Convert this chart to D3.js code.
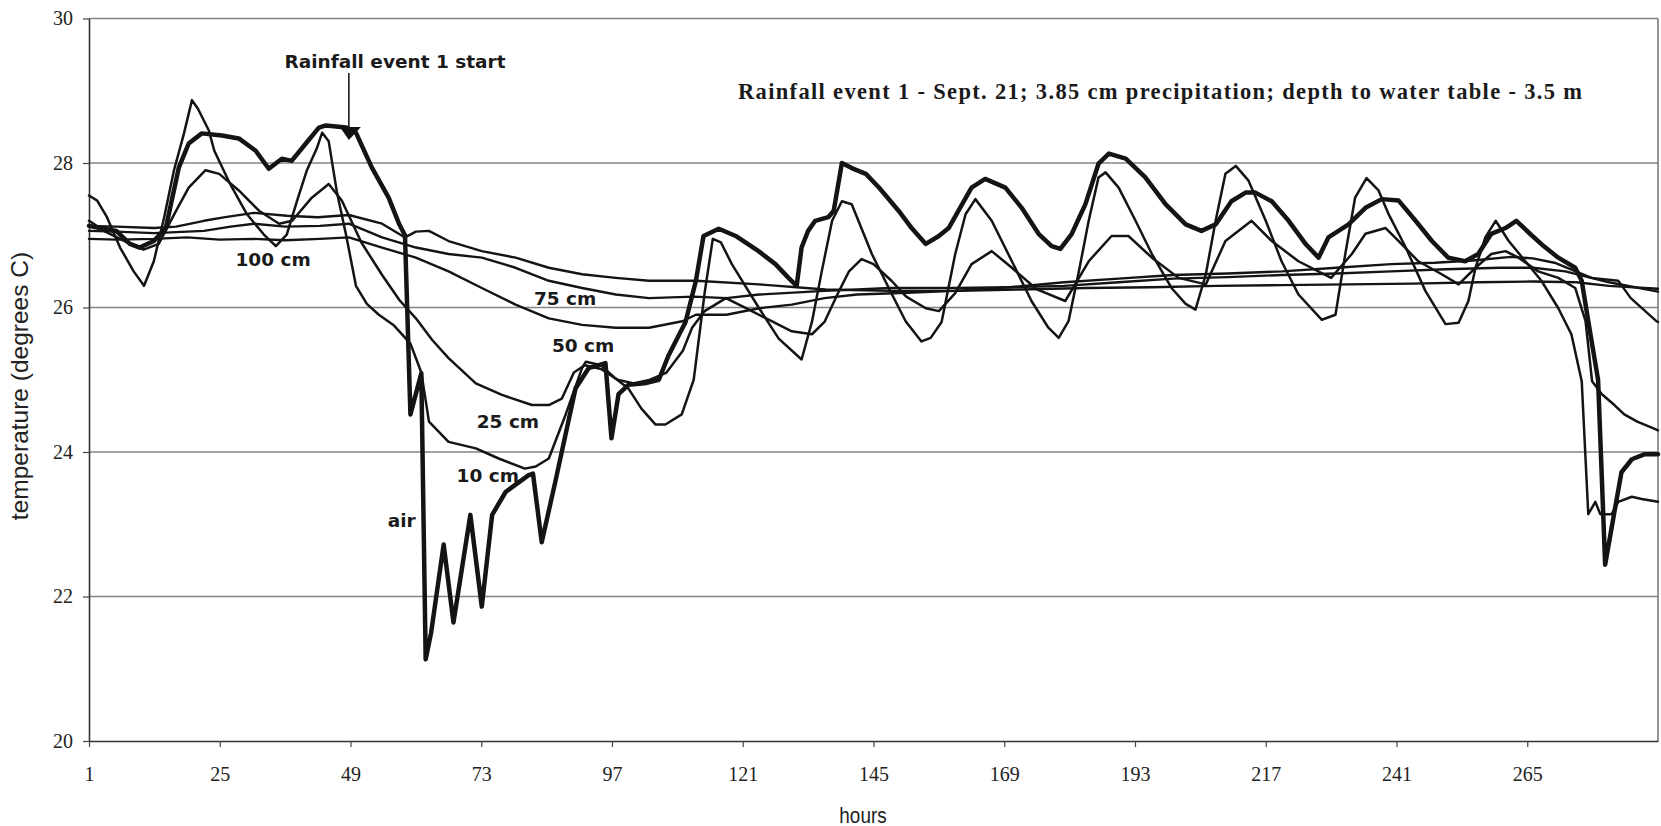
<!DOCTYPE html>
<html>
<head>
<meta charset="utf-8">
<script src="https://cdn.jsdelivr.net/npm/d3@7"></script>
<style>
  html, body { margin: 0; padding: 0; background: #ffffff; }
  svg { display: block; }
</style>
</head>
<body>
<svg id="chart" width="1661" height="826"></svg>
<script>
// ---- axis ticks ----
const hourTicks = [1, 25, 49, 73, 97, 121, 145, 169, 193, 217, 241, 265];
const tempTicks = [20, 22, 24, 26, 28, 30];

// ---- temperature records: [hour, degrees C] ----
const airTemps = [
  [1, 27.13], [3, 27.1], [6, 27.06], [8.5, 26.88], [10.3, 26.83], [12.9, 26.92], [15.1, 27.1],
  [17.5, 27.94], [19.3, 28.27], [21.7, 28.41], [25.4, 28.38], [28.5, 28.34], [31.6, 28.17],
  [34, 27.92], [36.4, 28.06], [38.2, 28.03], [40.8, 28.27], [43.2, 28.49], [44.5, 28.52],
  [48.2, 28.49], [50, 28.42], [52.9, 27.94], [56, 27.52], [57.9, 27.16], [59, 27.0],
  [60, 24.52], [62, 25.09], [62.8, 21.13], [63.8, 21.5], [66.1, 22.72], [67.9, 21.64],
  [71, 23.13], [73.1, 21.86], [75, 23.13], [77.5, 23.45], [81.7, 23.68], [82.5, 23.7],
  [84.1, 22.75], [86.6, 23.59], [90.3, 24.88], [92.7, 25.16], [95.8, 25.23], [96.9, 24.19],
  [98.2, 24.8], [100, 24.93], [103, 24.95], [105.6, 25.0], [107.4, 25.34], [110.5, 25.8],
  [112.4, 26.37], [113.8, 26.99], [116.6, 27.09], [119.7, 26.99], [123.9, 26.78], [127, 26.6],
  [129.4, 26.41], [130.9, 26.3], [131.8, 26.83], [133, 27.06], [134.3, 27.2], [136.7, 27.25],
  [137.7, 27.34], [139.2, 28.0], [141, 27.93], [143.6, 27.85], [146, 27.66], [149.6, 27.34],
  [152, 27.1], [154.6, 26.88], [157, 26.99], [158.8, 27.1], [160.6, 27.34], [163, 27.66],
  [165.5, 27.78], [169.2, 27.66], [172.2, 27.38], [175.3, 27.02], [177.7, 26.85], [179.3, 26.81],
  [181.4, 27.02], [183.9, 27.43], [186.3, 27.99], [188.2, 28.13], [191.3, 28.06], [194.9, 27.8],
  [198.6, 27.43], [202.3, 27.15], [205.2, 27.06], [207.8, 27.15], [210.7, 27.47], [213.3, 27.59],
  [215.1, 27.59], [218.1, 27.47], [221.2, 27.2], [224.3, 26.88], [226.7, 26.69], [228.5, 26.97],
  [232.2, 27.15], [235.3, 27.38], [238.3, 27.5], [241.4, 27.48], [244.5, 27.2], [247.5, 26.92],
  [250.5, 26.69], [253.6, 26.64], [256, 26.74], [258.4, 27.02], [261, 27.1], [263, 27.2],
  [265.8, 27.0], [268, 26.85], [270.7, 26.69], [273.8, 26.55], [275, 26.37], [276.2, 25.81],
  [278, 25.0], [279.3, 22.44], [281, 23.17], [282.3, 23.72], [284.2, 23.9], [286.6, 23.97], [289, 23.97]
];

const soil10 = [
  [1, 27.55], [2.5, 27.48], [4.3, 27.25], [6.7, 26.83], [9.2, 26.5], [11.1, 26.3], [12.9, 26.64],
  [14.8, 27.25], [16.6, 27.9], [18.4, 28.4], [19.9, 28.87], [21, 28.75], [23, 28.45], [24, 28.17],
  [26.9, 27.71], [30, 27.29], [33.1, 27.01], [35.3, 26.85], [37.3, 27.01], [39.2, 27.48],
  [41, 27.9], [42.8, 28.2], [43.8, 28.42], [45, 28.3], [46.5, 27.6], [48.2, 27.0], [50, 26.3],
  [52, 26.05], [54.2, 25.9], [57, 25.75], [60, 25.5], [62, 25.1], [63.4, 24.42], [67, 24.14],
  [72, 24.05], [76.2, 23.91], [81, 23.77], [83, 23.8], [85.4, 23.91], [88.5, 24.52], [91.5, 25.16],
  [92.2, 25.25], [95, 25.2], [97.6, 25.02], [100, 24.88], [102.4, 24.6], [105, 24.38],
  [106.8, 24.38], [109.8, 24.52], [112, 25.0], [114, 26.2], [115.5, 26.95], [117, 26.9],
  [119, 26.6], [124, 25.99], [127.6, 25.57], [131.8, 25.28], [133.7, 25.8], [135.5, 26.5],
  [137.4, 27.2], [139.2, 27.47], [141, 27.43], [144.7, 26.74], [148.4, 26.18], [150.9, 25.81],
  [153.8, 25.53], [155.5, 25.58], [157.5, 25.8], [160, 26.74], [161.9, 27.29], [163.7, 27.5],
  [166.7, 27.2], [170.4, 26.64], [174, 26.09], [177.1, 25.72], [179, 25.58], [180.8, 25.81],
  [182.7, 26.5], [184.5, 27.2], [186.3, 27.8], [187.6, 27.87], [190, 27.66], [193.1, 27.2],
  [196.1, 26.74], [199.7, 26.27], [202.3, 26.05], [204.1, 25.97], [206, 26.46], [207.8, 27.2],
  [209.6, 27.85], [211.5, 27.96], [213.8, 27.76], [217, 27.2], [219.9, 26.64], [223, 26.18],
  [227.3, 25.83], [229.8, 25.9], [231.6, 26.74], [233.4, 27.52], [235.5, 27.79], [237.7, 27.62],
  [239.5, 27.3], [242.7, 26.83], [246.3, 26.23], [250, 25.77], [252.4, 25.79], [254.2, 26.09],
  [255.5, 26.55], [257.3, 26.97], [259.2, 27.2], [261.6, 26.92], [264, 26.7], [267.6, 26.37],
  [270.7, 25.99], [273.1, 25.63], [275, 24.98], [276.2, 23.14], [277.5, 23.31], [278.4, 23.14],
  [280.5, 23.14], [281.7, 23.31], [284.2, 23.38], [286, 23.35], [289, 23.31]
];

const soil25 = [
  [1, 27.2], [4, 27.05], [8, 26.9], [11, 26.8], [13.8, 26.88], [17, 27.34], [19.3, 27.66],
  [22.4, 27.9], [24.9, 27.85], [28.5, 27.62], [32.2, 27.34], [35.9, 27.16], [38.3, 27.2],
  [41.9, 27.52], [45, 27.71], [47.4, 27.48], [51, 26.9], [54.8, 26.45], [58, 26.1], [61, 25.85],
  [64, 25.55], [67, 25.3], [72, 24.95], [76.8, 24.79], [82.3, 24.65], [85.4, 24.65], [87.8, 24.74],
  [90, 25.1], [92, 25.2], [95, 25.15], [98, 25.0], [101, 24.95], [104, 25.0], [107, 25.1],
  [110, 25.4], [111.7, 25.72], [114, 25.95], [117.9, 26.13], [121.6, 25.99], [126.3, 25.81],
  [130, 25.67], [133.7, 25.63], [136, 25.8], [138.5, 26.2], [140.5, 26.5], [142.8, 26.67],
  [145, 26.6], [148.3, 26.37], [151, 26.15], [154.6, 25.99], [157, 25.95], [160, 26.2],
  [163, 26.6], [166.7, 26.78], [170.4, 26.55], [175, 26.25], [180.2, 26.09], [184.5, 26.64],
  [188.7, 26.99], [191.8, 26.99], [196.1, 26.69], [201, 26.41], [206, 26.32], [209.6, 26.92],
  [214.4, 27.2], [218.1, 26.92], [223, 26.64], [229, 26.41], [232.8, 26.74], [235.3, 27.02],
  [239, 27.1], [241.4, 26.92], [245, 26.64], [249.3, 26.46], [252.4, 26.32], [255.5, 26.55],
  [258.4, 26.74], [261, 26.78], [263.4, 26.69], [267, 26.5], [270.7, 26.41], [273.8, 26.27],
  [275.7, 25.81], [276.9, 24.98], [278.7, 24.8], [281, 24.65], [282.8, 24.52], [285.2, 24.42],
  [288.4, 24.32], [289, 24.3]
];

const soil50 = [
  [1, 26.95], [6, 26.94], [12.9, 26.95], [19, 26.97], [25, 26.94], [31.3, 26.95], [37, 26.93],
  [43.4, 26.95], [48.7, 26.97], [54.8, 26.83], [61, 26.69], [67, 26.5], [73.1, 26.27],
  [79.3, 26.04], [85.4, 25.85], [91.5, 25.76], [97.7, 25.72], [103.8, 25.72], [109.9, 25.81],
  [112.4, 25.9], [118, 25.9], [124, 25.99], [130, 26.04], [136, 26.13], [142, 26.18],
  [150, 26.2], [160, 26.23], [170, 26.28], [180, 26.35], [190, 26.4], [200, 26.45], [210, 26.47],
  [220, 26.5], [230, 26.55], [240, 26.6], [248, 26.62], [255, 26.65], [262, 26.7], [266, 26.68],
  [270, 26.62], [276.8, 26.41], [281.7, 26.37], [284, 26.13], [288.7, 25.81], [289, 25.8]
];

const soil75 = [
  [1, 27.06], [6, 27.05], [12.9, 27.03], [22.1, 27.06], [27, 27.12], [31.3, 27.16], [37, 27.12],
  [43.4, 27.13], [48.7, 27.16], [54.8, 26.97], [61, 26.83], [67, 26.74], [73.1, 26.69],
  [79.3, 26.55], [85.4, 26.37], [91.5, 26.27], [97.7, 26.18], [103.8, 26.13], [112, 26.15],
  [118, 26.13], [124, 26.18], [136, 26.23], [148, 26.27], [160, 26.27], [170, 26.28],
  [180, 26.3], [190, 26.35], [200, 26.4], [210, 26.42], [220, 26.45], [230, 26.47],
  [240, 26.5], [250, 26.53], [260, 26.55], [266, 26.55], [272, 26.5], [280, 26.35], [289, 26.22]
];

const soil100 = [
  [1, 27.13], [6, 27.12], [12.9, 27.1], [17, 27.12], [22.1, 27.2], [26, 27.25], [31.3, 27.31],
  [37.3, 27.27], [43, 27.25], [48.7, 27.28], [54.8, 27.16], [59, 26.97], [61, 27.05],
  [63.4, 27.06], [67, 26.92], [73.1, 26.78], [79.3, 26.69], [85.4, 26.55], [91.5, 26.46],
  [97.7, 26.41], [103.8, 26.37], [112.4, 26.37], [124, 26.32], [136.2, 26.25], [148.4, 26.23],
  [160.6, 26.23], [172, 26.25], [184, 26.27], [196, 26.28], [208, 26.3], [220, 26.31],
  [232, 26.32], [244, 26.33], [256, 26.35], [266, 26.36], [274, 26.35], [280, 26.3], [289, 26.26]
];

// ---- depth labels, anchored in data units ----
const depthLabels = [
  { text: "100 cm", hour: 34.8, temp: 26.67 },
  { text: "75 cm",  hour: 88.4, temp: 26.12 },
  { text: "50 cm",  hour: 91.7, temp: 25.47 },
  { text: "25 cm",  hour: 77.9, temp: 24.42 },
  { text: "10 cm",  hour: 74.2, temp: 23.67 },
  { text: "air",    hour: 58.4, temp: 23.05 }
];
const rainStartHour = 48.7;

// ---- layout ----
const svg = d3.select("#chart");
const plotLeft = 89, plotRight = 1658, plotTop = 18.5, plotBottom = 741;

const x = d3.scaleLinear().domain([1, 289]).range([plotLeft, plotRight]);
const y = d3.scaleLinear().domain([20, 30]).range([plotBottom, plotTop]);

svg.append("rect").attr("width", 1661).attr("height", 826).attr("fill", "#ffffff");

// horizontal gridlines
svg.append("g")
  .selectAll("line")
  .data(tempTicks.filter(t => t > 20))
  .join("line")
  .attr("x1", plotLeft).attr("x2", plotRight)
  .attr("y1", d => y(d)).attr("y2", d => y(d))
  .attr("stroke", "#858585")
  .attr("stroke-width", 1.3);

// right frame edge
svg.append("line")
  .attr("x1", plotRight).attr("x2", plotRight)
  .attr("y1", plotTop).attr("y2", plotBottom)
  .attr("stroke", "#6a6a6a").attr("stroke-width", 1.4);

// y axis
const yAxis = svg.append("g")
  .attr("transform", `translate(${plotLeft},0)`)
  .call(d3.axisLeft(y).tickValues(tempTicks).tickSize(6).tickPadding(10).tickSizeOuter(0));
yAxis.select(".domain").attr("stroke", "#333").attr("stroke-width", 1.6);
yAxis.selectAll(".tick line").attr("stroke", "#444").attr("stroke-width", 1.2);
yAxis.selectAll(".tick text")
  .attr("font-family", "'Liberation Serif', 'Times New Roman', serif")
  .attr("font-size", 20).attr("fill", "#222");

// x axis
const xAxis = svg.append("g")
  .attr("transform", `translate(0,${plotBottom})`)
  .call(d3.axisBottom(x).tickValues(hourTicks).tickSize(6).tickPadding(20).tickSizeOuter(0));
xAxis.select(".domain").attr("stroke", "#333").attr("stroke-width", 1.6);
xAxis.selectAll(".tick line").attr("stroke", "#444").attr("stroke-width", 1.2);
xAxis.selectAll(".tick text")
  .attr("font-family", "'Liberation Serif', 'Times New Roman', serif")
  .attr("font-size", 20).attr("fill", "#222");

// axis titles
svg.append("text")
  .attr("transform", "translate(28,386) rotate(-90)")
  .attr("text-anchor", "middle")
  .attr("font-family", "'Liberation Sans', Arial, sans-serif")
  .attr("font-size", 24.5).attr("fill", "#222")
  .text("temperature (degrees C)");

svg.append("text")
  .attr("transform", "translate(863,823) scale(0.86,1)")
  .attr("text-anchor", "middle")
  .attr("font-family", "'Liberation Sans', Arial, sans-serif")
  .attr("font-size", 22).attr("fill", "#222")
  .text("hours");

// series
const line = d3.line().x(d => x(d[0])).y(d => y(d[1]));
const series = [
  { values: soil100, width: 2.4 },
  { values: soil75,  width: 2.4 },
  { values: soil50,  width: 2.4 },
  { values: soil25,  width: 2.5 },
  { values: soil10,  width: 2.5 },
  { values: airTemps, width: 4.5 }
];
svg.append("g")
  .selectAll("path")
  .data(series)
  .join("path")
  .attr("d", d => line(d.values))
  .attr("fill", "none")
  .attr("stroke", "#141414")
  .attr("stroke-width", d => d.width)
  .attr("stroke-linejoin", "round")
  .attr("stroke-linecap", "round");

// depth labels
svg.append("g")
  .selectAll("text")
  .data(depthLabels)
  .join("text")
  .attr("x", d => x(d.hour))
  .attr("y", d => y(d.temp))
  .attr("text-anchor", "middle")
  .attr("dominant-baseline", "central")
  .attr("font-family", "'DejaVu Sans', Verdana, sans-serif")
  .attr("font-weight", "bold")
  .attr("font-size", 18.5)
  .attr("fill", "#1a1a1a")
  .text(d => d.text);

// rainfall start annotation with arrow
const ax = x(rainStartHour);
svg.append("text")
  .attr("x", 395).attr("y", 68)
  .attr("text-anchor", "middle")
  .attr("font-family", "'DejaVu Sans', Verdana, sans-serif")
  .attr("font-weight", "bold")
  .attr("font-size", 18.5)
  .attr("fill", "#1a1a1a")
  .text("Rainfall event 1 start");
svg.append("line")
  .attr("x1", ax).attr("x2", ax)
  .attr("y1", 73).attr("y2", 128)
  .attr("stroke", "#1a1a1a").attr("stroke-width", 1.6);
svg.append("path")
  .attr("d", `M${ax - 9},127 L${ax + 12},127 L${ax},140 Z`)
  .attr("fill", "#111");

// event description
svg.append("text")
  .attr("x", 738).attr("y", 99)
  .attr("textLength", 844)
  .attr("lengthAdjust", "spacing")
  .attr("font-family", "'Liberation Serif', 'Times New Roman', serif")
  .attr("font-weight", "bold")
  .attr("font-size", 22.5)
  .attr("fill", "#1a1a1a")
  .text("Rainfall event 1 - Sept. 21; 3.85 cm precipitation; depth to water table -  3.5 m");
</script>
</body>
</html>
